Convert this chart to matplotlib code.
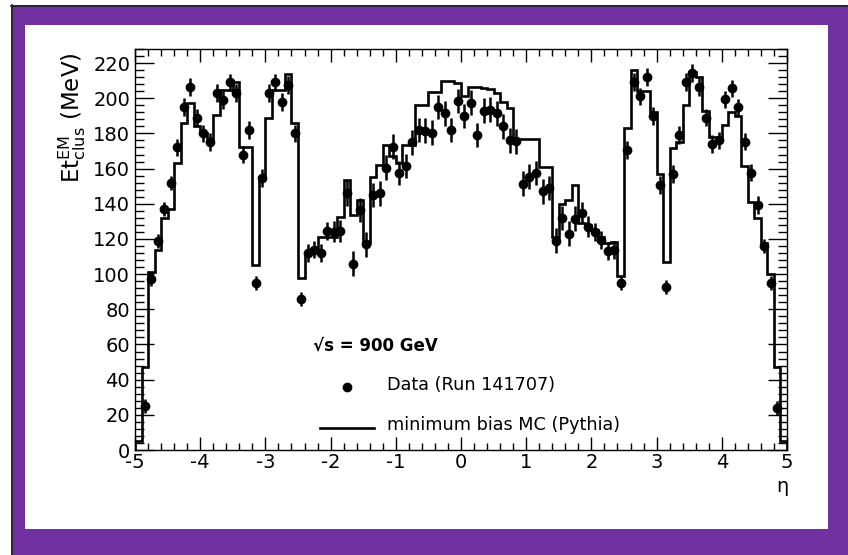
import numpy as np
import matplotlib
matplotlib.use("Agg")
import matplotlib.pyplot as plt
from matplotlib.ticker import MultipleLocator
from matplotlib.patches import Rectangle
from matplotlib.lines import Line2D

plt.rcParams['font.family'] = ['DejaVu Sans']
plt.rcParams['mathtext.fontset'] = 'dejavusans'

# ---------------- data ----------------
eta_min, eta_max, bin_width = -5.0, 5.0, 0.1

# data points (bin centres -4.95 ... 4.95), None = no point
data_et = [
    None, 25, 97, 119, 137, 152, 172, 195, 206.5, 189,
    180, 175, 203, 199, 209, 203, 168, 182, 95, 154.5,
    203, 209, 198, 207.5, 180, 86, 112, 114, 112, 124.5,
    124, 124.5, 146, 106, 136.5, 117, 145, 146, 160.5, 172.5,
    157.5, 161.5, 175, 182, 181.5, 180.5, 195, 191.5, 182, 198.5,
    190, 197.5, 179, 193, 193.5, 191.5, 184, 176, 175.5, 151.5,
    155.5, 157.5, 147, 149, 119, 132, 123, 131.5, 135, 127,
    124, 119.5, 113.3, 113.7, 94.8, 170.6, 209.4, 201, 212, 190,
    150.7, 92.5, 157, 179, 209.4, 214.5, 206.5, 189, 174, 176,
    199.4, 205.6, 194.8, 175.3, 157.7, 139.3, 116, 95, 24, None,
]
data_err = [
    0, 4, 4, 4, 4, 4, 5, 5, 5, 5,
    5, 5, 5, 5, 5, 5, 5, 5, 4, 5,
    5, 5, 5, 5, 5, 4, 5, 5, 5, 5,
    6, 6, 7, 7, 7, 7, 7, 7, 7, 7,
    7, 7, 7, 7, 7, 7, 7, 7, 7, 7,
    7, 7, 7, 7, 7, 7, 7, 7, 7, 7,
    7, 7, 7, 7, 7, 7, 7, 7, 6, 6,
    5, 5, 5, 5, 4, 5, 5, 5, 5, 5,
    5, 4, 5, 5, 5, 5, 5, 5, 5, 5,
    5, 5, 5, 5, 5, 5, 4, 4, 4, 0,
]

# MC histogram contents for the 100 bins [-5,-4.9] ... [4.9,5]
mc_et = [
    5, 47, 101, 114, 132, 137, 163, 186, 197.5, 184,
    180, 176, 190.5, 204.7, 204.7, 209, 172, 172, 105, 155,
    188.5, 204.7, 204.7, 213.6, 186, 97.6, 112, 114, 121, 121,
    121, 132.6, 153.5, 133.6, 142, 117.6, 155.4, 162, 173.4, 167,
    163, 173.4, 173.4, 196, 196, 203.7, 203.7, 210, 210, 208.5,
    201, 206.5, 206.5, 206, 205, 202.8, 198, 194.5, 177, 177,
    176.6, 176.6, 160.7, 160.7, 121, 140, 142, 150.7, 128.9, 128,
    125, 121, 117.5, 118.4, 99, 183, 216, 204, 204, 192,
    157, 107, 171.5, 175, 196, 215, 212, 193, 178, 178,
    185, 192, 190, 161.5, 141, 131.7, 117.5, 100, 47, 5,
]

x_ticks = [-5, -4, -3, -2, -1, 0, 1, 2, 3, 4, 5]
y_ticks = list(range(0, 221, 20))

legend_title = "√s = 900 GeV"
legend_data = "Data (Run 141707)"
legend_mc = "minimum bias MC (Pythia)"

# ---------------- figure ----------------
W, H = 848, 555
fig = plt.figure(figsize=(W / 100, H / 100), dpi=100)
fig.patch.set_facecolor('white')

def fx(px):
    return px / W

def fy(py):
    return 1 - py / H

# purple frame
fig.patches.append(Rectangle((fx(11), 0), fx(W - 11), fy(5), transform=fig.transFigure,
                             facecolor='#7030A0', edgecolor='none', zorder=0))
fig.add_artist(Line2D([fx(11), fx(W)], [fy(5.5), fy(5.5)], color='#222222', lw=1.2, zorder=1))
fig.add_artist(Line2D([fx(11.5), fx(11.5)], [fy(5), 0], color='#222222', lw=1.2, zorder=1))
fig.patches.append(Rectangle((fx(25), fy(529)), fx(828 - 25), (529 - 25) / H, transform=fig.transFigure,
                             facecolor='white', edgecolor='none', zorder=1))

ax_l, ax_r, ax_t, ax_b = 135, 787, 49, 450
ax = fig.add_axes([fx(ax_l), fy(ax_b), fx(ax_r - ax_l), (ax_b - ax_t) / H])
ax.set_zorder(5)
ax.set_facecolor('white')

edges = np.linspace(eta_min, eta_max, len(mc_et) + 1)
centers = 0.5 * (edges[:-1] + edges[1:])

ax.stairs(mc_et, edges, color='black', lw=1.9, baseline=0, zorder=3)

d = np.array([np.nan if v is None else v for v in data_et], dtype=float)
e = np.array(data_err, dtype=float)
m = ~np.isnan(d)
ax.errorbar(centers[m], d[m], yerr=e[m], fmt='o', color='black', ms=6.0,
            elinewidth=1.8, capsize=0, zorder=4)

ax.set_xlim(eta_min, eta_max)
ax.set_ylim(0, 228)
ax.set_xticks(x_ticks)
ax.set_xticklabels([str(t) for t in x_ticks])
ax.set_yticks(y_ticks)
ax.set_yticklabels([str(t) for t in y_ticks])
ax.xaxis.set_minor_locator(MultipleLocator(0.2))
ax.yaxis.set_minor_locator(MultipleLocator(4))
ax.tick_params(axis='both', which='both', direction='in', top=True, right=True,
               labelsize=14, width=1.0, colors='black')
ax.tick_params(axis='x', which='major', length=9.5, pad=2)
ax.tick_params(axis='x', which='minor', length=4.7)
ax.tick_params(axis='y', which='major', length=13.5, pad=3.5)
ax.tick_params(axis='y', which='minor', length=6.8)
for s in ax.spines.values():
    s.set_linewidth(1.0)

ax.set_ylabel(r"Et$^{\mathrm{EM}}_{\mathrm{clus}}$ (MeV)", fontsize=16.5, labelpad=2)
ax.yaxis.set_label_coords((88 - ax_l) / (ax_r - ax_l), 1.0 - 3 / (ax_b - ax_t))
ax.yaxis.label.set_horizontalalignment('right')

fig.text(fx(788), fy(486), "η", fontsize=14, ha='right', va='center', zorder=6)

# legend
fig.text(fx(313), fy(346), legend_title, fontsize=12, fontweight='bold', ha='left', va='center', zorder=6)
fig.add_artist(Line2D([fx(346.5)], [fy(387)], marker='o', color='black', ms=6.0, ls='none', zorder=6))
fig.text(fx(387), fy(385), legend_data, fontsize=12.7, ha='left', va='center', zorder=6)
fig.add_artist(Line2D([fx(320), fx(374)], [fy(427.5), fy(427.5)], color='black', lw=1.9, zorder=6))
fig.text(fx(387), fy(425), legend_mc, fontsize=12.7, ha='left', va='center', zorder=6)

fig.savefig("out.png", dpi=100, facecolor=fig.get_facecolor())
